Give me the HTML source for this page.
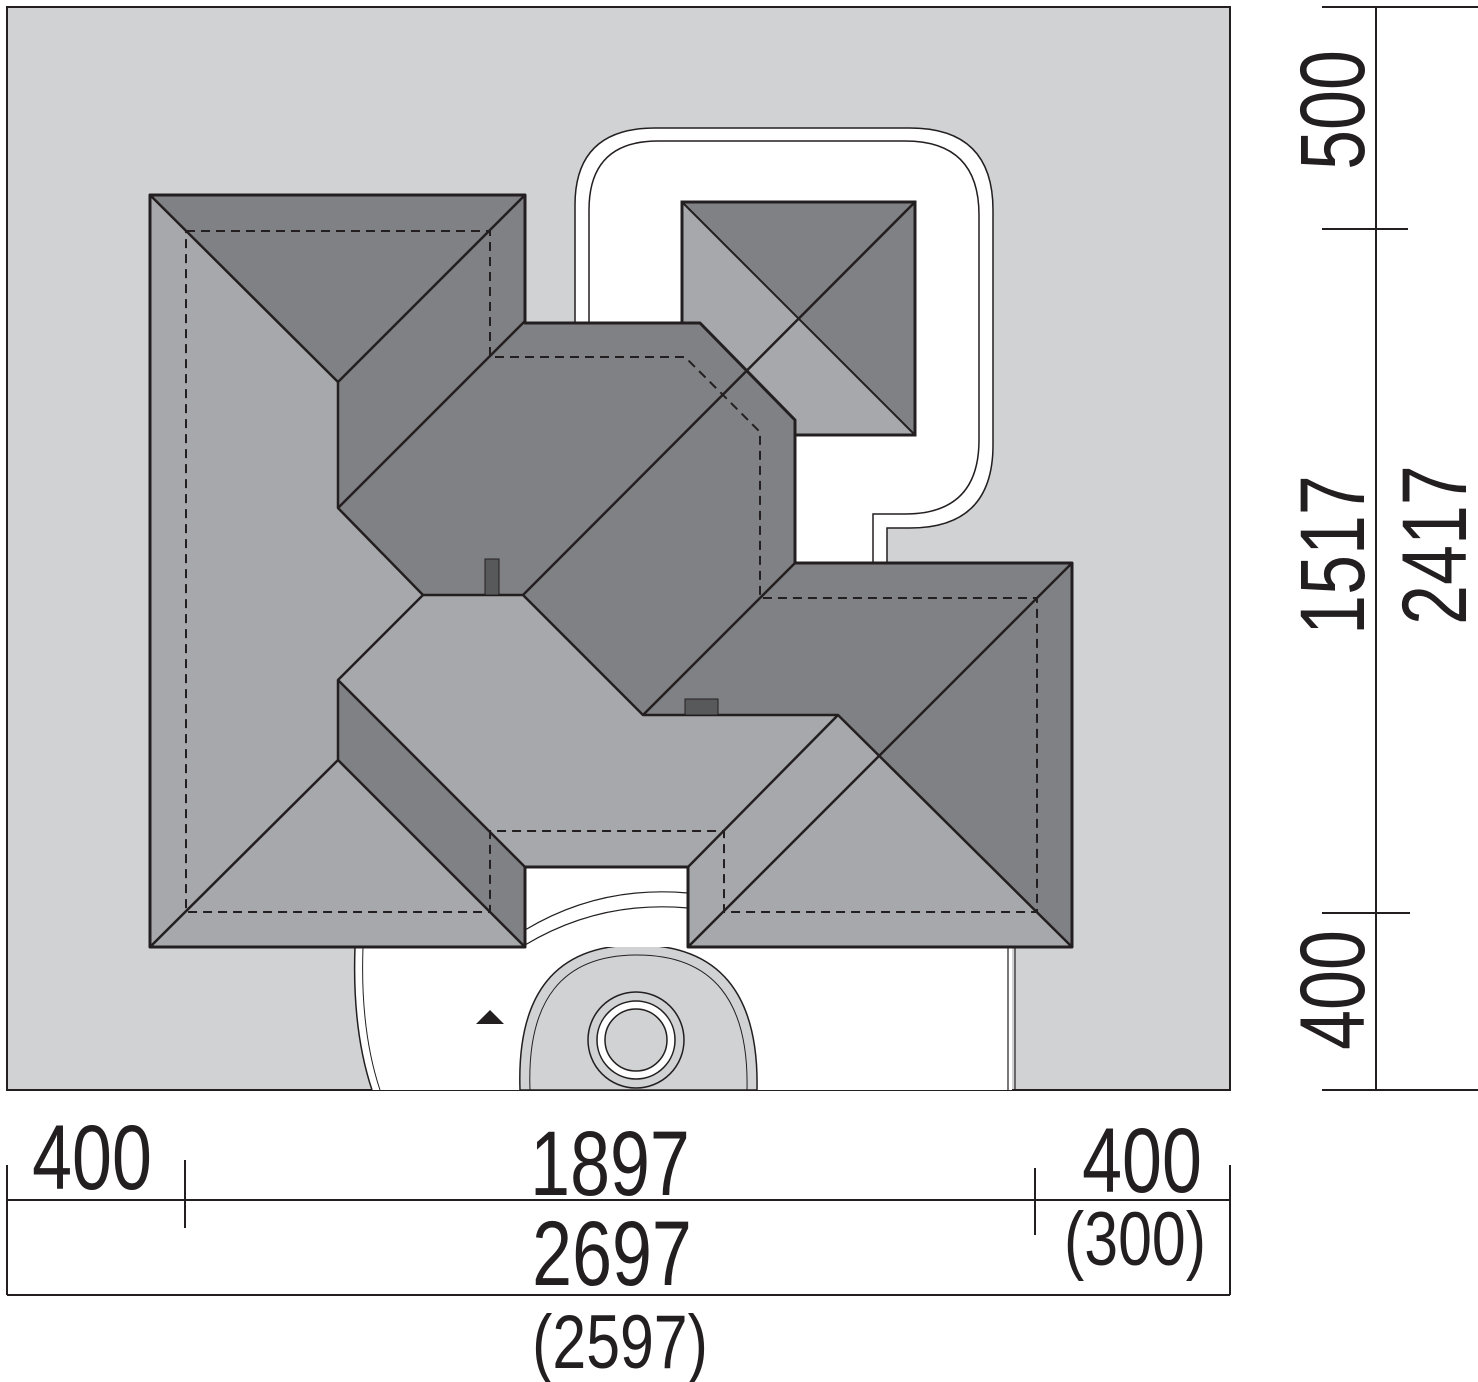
<!DOCTYPE html>
<html><head><meta charset="utf-8"><style>
html,body{margin:0;padding:0;background:#fff}
svg{display:block}
text{font-family:"Liberation Sans",sans-serif;fill:#231f20}
</style></head><body>
<svg width="1478" height="1382" viewBox="0 0 1478 1382" xmlns="http://www.w3.org/2000/svg">
<rect x="7" y="7" width="1223" height="1083" fill="#d1d2d4" stroke="#231f20" stroke-width="2"/>
<path d="M575,323 V205 Q575,128 655,128 H910 Q993,128 993,210 V445 Q993,528 910,528 H887 V563 H795 V420 L700,323 Z" fill="#fff" stroke="#231f20" stroke-width="1.5"/>
<path d="M589,323 V210 Q589,141 658,141 H905 Q979,141 979,215 V440 Q979,514 905,514 H873 V563" fill="none" stroke="#231f20" stroke-width="1.5"/>
<path d="M355,947 Q352,1030 372,1090 H1012 V947 Z" fill="#fff"/>
<path d="M355,947 Q352,1030 372,1090" fill="none" stroke="#231f20" stroke-width="1.5"/>
<path d="M363,947 Q360,1030 380,1090" fill="none" stroke="#231f20" stroke-width="1"/>
<path d="M1008,947 V1090 M1015,947 V1090" stroke="#231f20" stroke-width="1.2"/>
<path d="M520,1090 Q515,945 637,945 Q760,945 757,1090 Z" fill="#d1d2d4" stroke="#231f20" stroke-width="1.5"/>
<path d="M530,1090 Q525,955 637,955 Q750,955 747,1090" fill="none" stroke="#231f20" stroke-width="1"/>
<circle cx="636" cy="1040" r="48" fill="#d1d2d4" stroke="#231f20" stroke-width="1.5"/>
<circle cx="636" cy="1040" r="39" fill="#fff" stroke="#231f20" stroke-width="1.5"/>
<circle cx="636" cy="1040" r="31" fill="#d1d2d4" stroke="#231f20" stroke-width="1.5"/>
<path d="M525,867 H688 V947 H525 Z" fill="#fff"/>
<path d="M525,930 Q600,885 688,893 M525,945 Q600,900 688,908" fill="none" stroke="#231f20" stroke-width="1.2"/>
<polygon points="476,1024 490,1010 504,1024" fill="#231f20"/>
<rect x="682" y="202" width="233" height="233" fill="#808184" stroke="#231f20" stroke-width="3"/>
<polygon points="682,202 798,318 682,435" fill="#a7a8ab"/>
<polygon points="682,435 798,318 915,435" fill="#a7a8ab"/>
<rect x="682" y="202" width="233" height="233" fill="none" stroke="#231f20" stroke-width="3"/>
<path d="M682,202 L915,435" stroke="#231f20" stroke-width="2"/>
<path d="M150,195 H525 V323 H700 L795,420 V563 H1072 V947 H688 V867 H525 V947 H150 Z" fill="#808184"/>
<polygon points="150,195 338,382 338,508 423,595 338,680 338,760 525,947 150,947" fill="#a7a8ab"/>
<polygon points="423,595 523,595 643,715 838,715 688,867 525,867 338,680" fill="#a7a8ab"/>
<polygon points="688,867 838,715 1072,947 688,947" fill="#a7a8ab"/>
<g stroke="#231f20" stroke-width="2.5" fill="none" stroke-linejoin="round">
<path d="M150,195 L338,382 L525,195 M338,382 V508 L423,595 H523 L643,715 H838 L688,867 M423,595 L338,680 V760 L150,947 M338,760 L525,947 M338,680 L525,867 M338,508 L525,321 M915,202 L523,595 M1072,563 L688,947 M838,715 L1072,947 M643,715 L795,563"/>
<path d="M186,231 H490 V357 H685 L760,432 V598 H1037 V912 H724 V831 H490 V912 H186 Z" stroke-width="2" stroke-dasharray="9,6"/>
<path d="M150,195 H525 V323 H700 L795,420 V563 H1072 V947 H688 V867 H525 V947 H150 Z" stroke-width="3"/>
</g>
<rect x="485" y="559" width="14" height="36" fill="#58595b" stroke="#231f20" stroke-width="1"/>
<rect x="685" y="699" width="33" height="16" fill="#58595b" stroke="#231f20" stroke-width="1"/>
<g stroke="#231f20" stroke-width="2">
<path d="M1376,7 V1090 M1322,7 H1478 M1322,1090 H1478 M1322,229 H1408 M1322,913 H1410"/>
<path d="M7,1200 H1230 M7,1295 H1230 M7,1165 V1295 M1230,1165 V1295 M185,1160 V1228 M1035,1168 V1235"/>
</g>
<g font-size="92">
<text transform="translate(1364,110) rotate(-90) scale(0.78,1)" text-anchor="middle">500</text>
<text transform="translate(1364,555) rotate(-90) scale(0.78,1)" text-anchor="middle">1517</text>
<text transform="translate(1364,990) rotate(-90) scale(0.78,1)" text-anchor="middle">400</text>
<text transform="translate(1466,545) rotate(-90) scale(0.78,1)" text-anchor="middle">2417</text>
<text transform="translate(92,1189) scale(0.78,1)" text-anchor="middle">400</text>
<text transform="translate(610,1195) scale(0.78,1)" text-anchor="middle">1897</text>
<text transform="translate(1142,1192) scale(0.78,1)" text-anchor="middle">400</text>
<text transform="translate(612,1285) scale(0.78,1)" text-anchor="middle">2697</text>
</g>
<g font-size="76">
<text transform="translate(1135,1265) scale(0.8,1)" text-anchor="middle">(300)</text>
<text transform="translate(620,1368) scale(0.8,1)" text-anchor="middle">(2597)</text>
</g>
</svg>
</body></html>
